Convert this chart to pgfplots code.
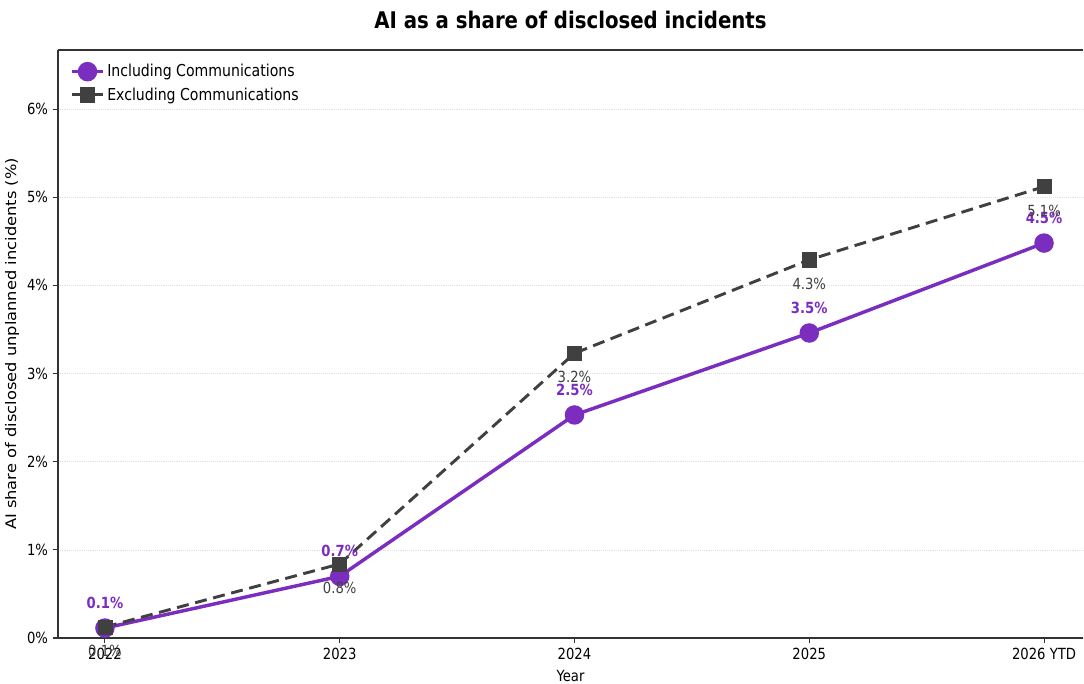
\documentclass[border=0pt]{standalone}
\usepackage{fontspec}
\setmainfont{DejaVu Sans}[FakeStretch=0.86]
\newfontfamily\ylabfont{DejaVu Sans}[FakeStretch=1.12]
\usepackage{pgfplots}
\pgfplotsset{compat=1.18}
\definecolor{incl}{RGB}{123,45,191}
\definecolor{excl}{RGB}{64,64,64}
\begin{document}
\begin{tikzpicture}
\path[use as bounding box] (-43.5pt,-33.75pt) rectangle (769.5pt,478.5pt);
\begin{axis}[
  at={(0,0)}, anchor=south west,
  scale only axis, width=768.75pt, height=441pt,
  xmin=-0.2, xmax=4.166, ymin=0, ymax=6.67,
  /pgf/number format/assume math mode=true,
  axis x line*=bottom, axis y line*=left,
  axis line style={line width=0.9pt, draw=black!80},
  tick align=outside, major tick length=4pt,
  tick style={line width=0.8pt, draw=black!80},
  xtick={0,1,2,3,4},
  xticklabels={2022,2023,2024,2025,2026 YTD},
  ytick={0,1,2,3,4,5,6},
  yticklabel={\pgfmathprintnumber[fixed,precision=0]{\tick}\%},
  ticklabel style={font=\fontsize{11.5}{13}\selectfont},
  xlabel={Year}, ylabel={\ylabfont AI share of disclosed unplanned incidents (\%)},
  xlabel style={font=\fontsize{11.5}{13}\selectfont, yshift=-1pt},
  ylabel style={font=\fontsize{10.9}{12}\selectfont, yshift=-1pt},
  title={AI as a share of disclosed incidents},
  title style={font=\bfseries\fontsize{17.2}{20}\selectfont, yshift=6pt},
  ymajorgrids, grid style={densely dotted, line width=0.5pt, draw=black!12},
  legend style={at={(0.008,0.985)}, anchor=north west, draw=none, fill=none,
    font=\fontsize{12.3}{14}\selectfont, row sep=2.5pt},
  legend cell align=left,
  legend image code/.code={\draw[#1] (0pt,0pt) -- (23pt,0pt); \draw[#1, solid] plot coordinates {(11.5pt,0pt)};},
  nodes near coords={\pgfmathprintnumber[fixed,precision=1]{\pgfplotspointmeta}\%},
  point meta=y,
  clip=false,
]
\draw[line width=0.9pt, draw=black!80] (rel axis cs:0,1) -- (rel axis cs:1,1);
\addplot[incl, line width=2.6pt, mark=*, mark size=6pt, mark options={solid, fill=incl, draw=incl},
  nodes near coords style={font=\bfseries\fontsize{11.5}{13}\selectfont, text=incl, anchor=center, yshift=19pt}]
  coordinates {(0,0.113) (1,0.70) (2,2.53) (3,3.46) (4,4.48)};
\addlegendentry{Including Communications}
\addplot[excl, line width=2.2pt, dash pattern=on 9pt off 5pt, mark=square*, mark size=5.3pt, mark options={solid, fill=excl, draw=excl, line width=0.5pt},
  nodes near coords style={font=\fontsize{11.5}{13}\selectfont, text=excl, anchor=center, yshift=-18pt}]
  coordinates {(0,0.125) (1,0.84) (2,3.23) (3,4.29) (4,5.12)};
\addlegendentry{Excluding Communications}
\end{axis}
\end{tikzpicture}
\end{document}
